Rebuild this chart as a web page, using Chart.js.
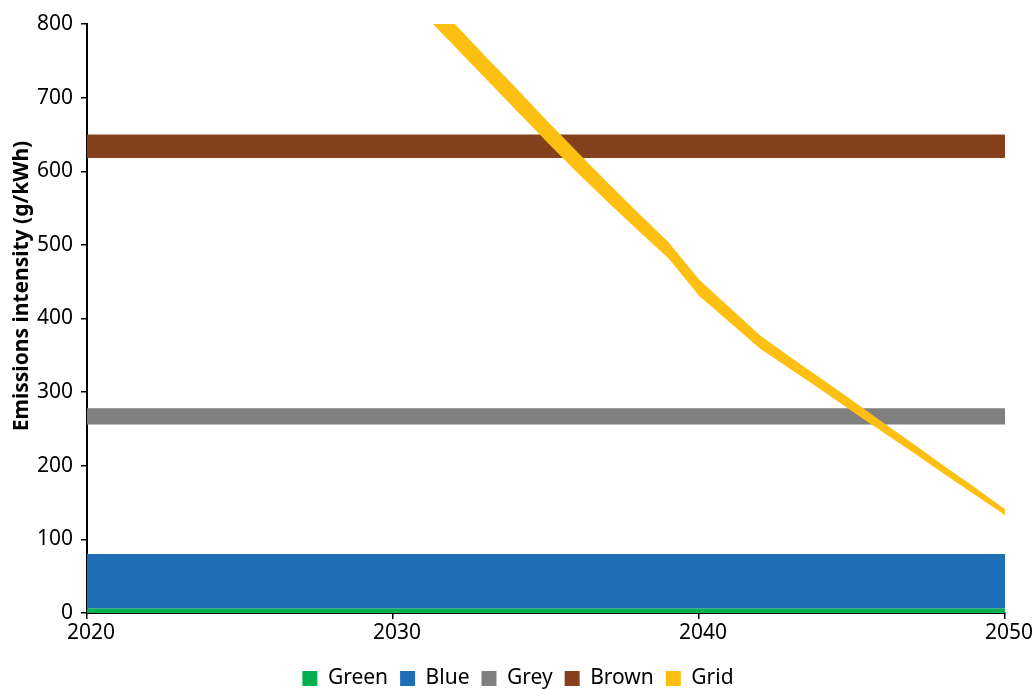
<!DOCTYPE html>
<html>
<head>
<meta charset="utf-8">
<script src="https://cdn.jsdelivr.net/npm/chart.js@4/dist/chart.umd.min.js"></script>
<style>
html,body{margin:0;padding:0;background:#fff;overflow:hidden}
#wrap{width:1036px;height:689px;position:relative}
</style>
</head>
<body>
<div id="wrap"><canvas id="c" width="1036" height="689"></canvas></div>
<script>
// ---- data ----
const xMin = 2020;
const xMax = 2050;
const xTicks = [2020, 2030, 2040, 2050];
const yTicks = [0, 100, 200, 300, 400, 500, 600, 700, 800];
const seriesNames = ['Green', 'Blue', 'Grey', 'Brown', 'Grid'];
const yTitle = 'Emissions intensity (g/kWh)';

// constant bands [lower, upper]
const greenBand = [0, 6];
const blueBand = [6, 80];
const greyBand = [256, 278];
const brownBand = [618, 650];

// grid band (upper and lower bound per year)
const gridYears = [2030, 2031, 2032, 2033, 2034, 2035, 2036, 2037, 2038, 2039, 2040,
                   2041, 2042, 2043, 2044, 2045, 2046, 2047, 2048, 2049, 2050];
const gridUpper = [888, 845, 801, 757, 714, 670, 627, 585, 544, 504, 453,
                   415, 377, 347, 318, 289, 259, 230, 200, 171, 141];
const gridLower = [857, 813, 770, 727, 684, 641, 599, 559, 520, 482, 431,
                   395, 359, 331, 303, 274, 246, 218, 189, 161, 133];

// ---- styles ----
const colors = {
  Green: '#00b050',
  Blue: '#1e6eb6',
  Grey: '#808080',
  Brown: '#85401e',
  Grid: '#fdc012'
};
const FONT = '"Noto Sans", "Open Sans", sans-serif';
const LEGEND_PAD = 12;
const LEGEND_BOX_TOP = 671;
const LEGEND_CENTER_X = 518;
const TITLE_X = 22;
const TITLE_Y = 286;

function bandDataset(name, band) {
  return {
    label: name,
    data: [{x: xMin, y: band[1]}, {x: xMax, y: band[1]}],
    backgroundColor: colors[name],
    borderColor: colors[name],
    borderWidth: 0,
    pointRadius: 0,
    pointHoverRadius: 0,
    tension: 0,
    fill: {value: band[0]},
    order: 1
  };
}

const datasets = [
  bandDataset('Green', greenBand),
  bandDataset('Blue', blueBand),
  bandDataset('Grey', greyBand),
  bandDataset('Brown', brownBand),
  {
    label: 'Grid',
    data: gridYears.map((yr, i) => ({x: yr, y: gridUpper[i]})),
    backgroundColor: colors.Grid,
    borderColor: colors.Grid,
    borderWidth: 0,
    pointRadius: 0,
    pointHoverRadius: 0,
    tension: 0,
    fill: '+1',
    order: 0
  },
  {
    label: 'Grid lower bound',
    data: gridYears.map((yr, i) => ({x: yr, y: gridLower[i]})),
    backgroundColor: colors.Grid,
    borderColor: colors.Grid,
    borderWidth: 0,
    pointRadius: 0,
    pointHoverRadius: 0,
    tension: 0,
    fill: false,
    order: 0
  }
];

const legendShift = {
  id: 'legendShift',
  afterLayout(chart) {
    const lg = chart.legend;
    if (!lg) return;
    const target = LEGEND_BOX_TOP - LEGEND_PAD - 3;
    const dy = target - lg.top;
    lg.top += dy;
    lg.bottom += dy;
    const dx = LEGEND_CENTER_X - (lg.left + lg.right) / 2;
    lg.left += dx;
    lg.right += dx;
  }
};

const yTitlePlugin = {
  id: 'yTitlePlugin',
  afterDraw(chart) {
    const ctx = chart.ctx;
    ctx.save();
    ctx.translate(TITLE_X, TITLE_Y);
    ctx.rotate(-Math.PI / 2);
    ctx.fillStyle = '#000';
    ctx.font = 'bold 21px ' + FONT;
    ctx.textAlign = 'center';
    ctx.textBaseline = 'middle';
    ctx.fillText(yTitle, 0, 0);
    ctx.restore();
  }
};

Chart.defaults.color = '#000';
Chart.defaults.font.family = FONT;

new Chart(document.getElementById('c'), {
  type: 'line',
  data: {datasets},
  plugins: [legendShift, yTitlePlugin],
  options: {
    responsive: false,
    animation: false,
    devicePixelRatio: 1,
    layout: {padding: {left: 0, right: 31, top: 24, bottom: 0}},
    plugins: {
      tooltip: {enabled: false},
      legend: {
        position: 'bottom',
        labels: {
          boxWidth: 15,
          boxHeight: 15,
          padding: LEGEND_PAD,
          font: {size: 21, family: FONT},
          color: '#000',
          filter: (item) => seriesNames.includes(item.text),
          sort: (a, b) => a.datasetIndex - b.datasetIndex
        }
      }
    },
    scales: {
      x: {
        type: 'linear',
        min: xMin,
        max: xMax,
        z: 1,
        afterBuildTicks: (s) => { s.ticks = xTicks.map(v => ({value: v})); },
        afterFit: (s) => { s.height = 33; },
        ticks: {
          font: {size: 21, family: FONT},
          color: '#000',
          padding: 1,
          labelOffset: 4,
          maxRotation: 0,
          callback: (v) => String(v)
        },
        grid: {display: true, drawOnChartArea: false, drawTicks: true, tickLength: 6, color: '#000', lineWidth: 1.5},
        border: {display: true, color: '#000', width: 2}
      },
      y: {
        min: 0,
        max: 800,
        z: 1,
        afterBuildTicks: (s) => { s.ticks = yTicks.map(v => ({value: v})); },
        afterFit: (s) => { s.width = 87; },
        ticks: {
          font: {size: 21, family: FONT},
          color: '#000',
          padding: 8,
          callback: (v) => String(v)
        },
        title: {display: false},
        grid: {display: true, drawOnChartArea: false, drawTicks: true, tickLength: 6, color: '#000', lineWidth: 1.5},
        border: {display: true, color: '#000', width: 2}
      }
    }
  }
});
</script>
</body>
</html>
